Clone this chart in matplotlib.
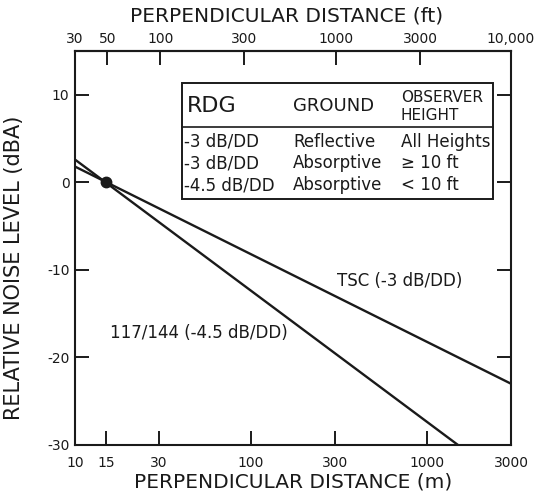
import matplotlib
matplotlib.use("Agg")
import matplotlib.pyplot as plt
from matplotlib.patches import Rectangle
from matplotlib.lines import Line2D

# ---------------- data ----------------
tsc_label = "TSC (-3 dB/DD)"
tsc_dist_m = [10, 3000]
tsc_level = [1.8, -23.0]

fhwa_label = "117/144 (-4.5 dB/DD)"
fhwa_dist_m = [10, 1500]
fhwa_level = [2.6, -30.0]

ref_dist_m = [15]
ref_level = [0]

x_ticks_m = [10, 15, 30, 100, 300, 1000, 3000]
x_ticklabels_m = ["10", "15", "30", "100", "300", "1000", "3000"]
x_ticks_ft_inner = [50, 100, 300, 1000, 3000]
x_ticklabels_ft = ["30", "50", "100", "300", "1000", "3000", "10,000"]
y_ticks = [10, 0, -10, -20, -30]
y_ticklabels = ["10", "0", "-10", "-20", "-30"]

table_header = ["RDG", "GROUND", "OBSERVER", "HEIGHT"]
table_rdg = ["-3 dB/DD", "-3 dB/DD", "-4.5 dB/DD"]
table_ground = ["Reflective", "Absorptive", "Absorptive"]
table_height = ["All Heights", "\u2265 10 ft", "< 10 ft"]

M_TO_FT = 3.2808

# ---------------- figure ----------------
W, H = 547, 497
fig = plt.figure(figsize=(W / 100, H / 100), dpi=100)
AX_L, AX_R, AX_T, AX_B = 75, 511, 51, 445
ax = fig.add_axes([AX_L / W, 1 - AX_B / H, (AX_R - AX_L) / W, (AX_B - AX_T) / H])


def pa(x, y):
    """pixel (from top-left) -> axes fraction"""
    return (x - AX_L) / (AX_R - AX_L), (AX_B - y) / (AX_B - AX_T)


ink = "#1a1a1a"
ax.set_xscale("log")
ax.set_xlim(10, 3000)
ax.set_ylim(-30, 15)

ax.plot(tsc_dist_m, tsc_level, color=ink, lw=1.7, solid_capstyle="butt", clip_on=True)
ax.plot(fhwa_dist_m, fhwa_level, color=ink, lw=1.7, solid_capstyle="butt", clip_on=True)
ax.plot(ref_dist_m, ref_level, "o", color=ink, ms=7.5, zorder=5)

for s in ax.spines.values():
    s.set_linewidth(1.5)
    s.set_color(ink)

ax.set_xticks(x_ticks_m)
ax.set_xticklabels(x_ticklabels_m)
ax.xaxis.set_minor_locator(matplotlib.ticker.NullLocator())
ax.set_yticks(y_ticks)
ax.set_yticklabels(y_ticklabels)
ax.tick_params(axis="x", which="major", direction="in", length=10, width=1.4,
               color=ink, labelsize=10, pad=8, labelcolor=ink)
ax.tick_params(axis="y", which="major", direction="in", length=10, width=1.4,
               color=ink, labelsize=10, pad=4, right=True, labelcolor=ink)

sec = ax.secondary_xaxis("top", functions=(lambda m: m * M_TO_FT, lambda f: f / M_TO_FT))
lo_ft, hi_ft = 10 * M_TO_FT, 3000 * M_TO_FT
sec.set_xticks([lo_ft] + x_ticks_ft_inner + [hi_ft])
sec.set_xticklabels(x_ticklabels_ft)
sec.xaxis.set_minor_locator(matplotlib.ticker.NullLocator())
sec.tick_params(axis="x", which="major", direction="in", length=10, width=1.4,
                color=ink, labelsize=10, pad=3.5, labelcolor=ink)
sec.spines["top"].set_linewidth(1.5)

ax.set_xlabel("PERPENDICULAR DISTANCE (m)", fontsize=14.5, color=ink, va="center")
ax.xaxis.set_label_coords(*pa(293, 482), transform=ax.transAxes)
sec.set_xlabel("PERPENDICULAR DISTANCE (ft)", fontsize=14.5, color=ink, va="center")
sec.xaxis.set_label_coords(*pa(287, 16), transform=ax.transAxes)
ax.set_ylabel("RELATIVE NOISE LEVEL (dBA)", fontsize=15, color=ink, va="center")
ax.yaxis.set_label_coords(*pa(14, 268), transform=ax.transAxes)

# line labels
ax.text(*pa(400, 281), tsc_label, transform=ax.transAxes, ha="center", va="center",
        fontsize=12, color=ink)
ax.text(*pa(199, 333), fhwa_label, transform=ax.transAxes, ha="center", va="center",
        fontsize=12, color=ink)

# table box
x0, y0 = pa(182, 199)
x1, y1 = pa(493, 83)
ax.add_patch(Rectangle((x0, y0), x1 - x0, y1 - y0, transform=ax.transAxes,
                       fill=True, facecolor="white", edgecolor=ink, lw=1.4, zorder=6))
dx0, dy = pa(182, 127)
dx1, _ = pa(493, 127)
ax.add_line(Line2D([dx0, dx1], [dy, dy], transform=ax.transAxes, color=ink, lw=1.2, zorder=7))

ax.text(*pa(187, 106), table_header[0], transform=ax.transAxes, ha="left", va="center",
        fontsize=16, color=ink, zorder=8)
ax.text(*pa(293, 106), table_header[1], transform=ax.transAxes, ha="left", va="center",
        fontsize=13, color=ink, zorder=8)
ax.text(*pa(401, 97), table_header[2], transform=ax.transAxes, ha="left", va="center",
        fontsize=11, color=ink, zorder=8)
ax.text(*pa(401, 115), table_header[3], transform=ax.transAxes, ha="left", va="center",
        fontsize=11, color=ink, zorder=8)

row_y = [142, 163, 185]
for yy, a, b, c in zip(row_y, table_rdg, table_ground, table_height):
    ax.text(*pa(184, yy), a, transform=ax.transAxes, ha="left", va="center",
            fontsize=12, color=ink, zorder=8)
    ax.text(*pa(293, yy), b, transform=ax.transAxes, ha="left", va="center",
            fontsize=12, color=ink, zorder=8)
    ax.text(*pa(401, yy), c, transform=ax.transAxes, ha="left", va="center",
            fontsize=12, color=ink, zorder=8)

fig.savefig("out.png", dpi=100)
